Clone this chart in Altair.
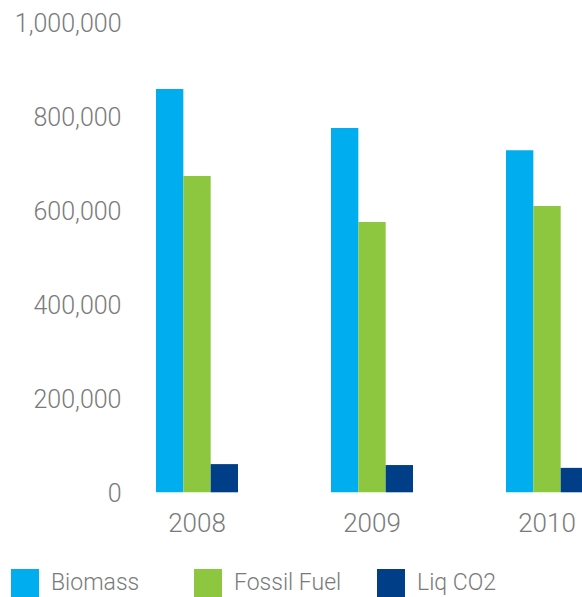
import altair as alt
import pandas as pd

years = ["2008", "2009", "2010"]
series = ["Biomass", "Fossil Fuel", "Liq CO2"]
biomass = [858000, 775000, 728000]
fossil_fuel = [673000, 575000, 609000]
liq_co2 = [60000, 58000, 52000]
colors = ["#00AEEF", "#8DC63F", "#003F87"]
y_ticks = [0, 200000, 400000, 600000, 800000, 1000000]

rows = []
for i, yr in enumerate(years):
    for name, vals in zip(series, [biomass, fossil_fuel, liq_co2]):
        rows.append({"year": yr, "series": name, "value": vals[i]})
df = pd.DataFrame(rows)

FONT = "Roboto"
GRAY = "#7a7a7a"

chart = alt.Chart(df).mark_bar(strokeWidth=0).encode(
    x=alt.X("year:N", sort=years, title=None,
            scale=alt.Scale(range=[0, 525], paddingInner=0.5314, paddingOuter=0.2657),
            axis=alt.Axis(labelAngle=0, ticks=False, tickSize=0, domain=False, grid=False,
                          labelPadding=18, labelFontSize=26, labelFont=FONT,
                          labelFontWeight=300, labelColor=GRAY)),
    xOffset=alt.XOffset("series:N", sort=series, scale=alt.Scale(paddingInner=0, paddingOuter=0)),
    y=alt.Y("value:Q", title=None,
            scale=alt.Scale(domain=[0, 1000000], nice=False),
            axis=alt.Axis(values=y_ticks, format=",d", ticks=False, tickSize=0, domain=False,
                          grid=False, labelPadding=-11.5, labelOffset=1,
                          labelFontSize=25, labelFont=FONT, labelFontWeight=300,
                          labelColor=GRAY)),
    color=alt.Color("series:N", sort=series, title=None,
                    scale=alt.Scale(domain=series, range=colors),
                    legend=alt.Legend(orient="none", legendX=-98.5, legendY=546.7,
                                      direction="horizontal", columns=3, gridAlign="all",
                                      columnPadding=35, symbolType="square", symbolSize=784,
                                      symbolStrokeWidth=0, symbolOpacity=1, labelOffset=12,
                                      labelFontSize=23, labelFont=FONT, labelFontWeight=300,
                                      labelColor=GRAY, padding=0, offset=0)),
).properties(
    width=472.5,
    height=470,
    background="white",
    autosize=alt.AutoSizeParams(type="none"),
    padding={"left": 109.5, "top": 22.3, "right": 0, "bottom": 104.7},
).configure_view(strokeWidth=0, stroke="transparent").configure_axis(
    grid=False, domain=False, ticks=False
)

chart.save("out.html", embed_options={"renderer": "svg", "actions": False})
